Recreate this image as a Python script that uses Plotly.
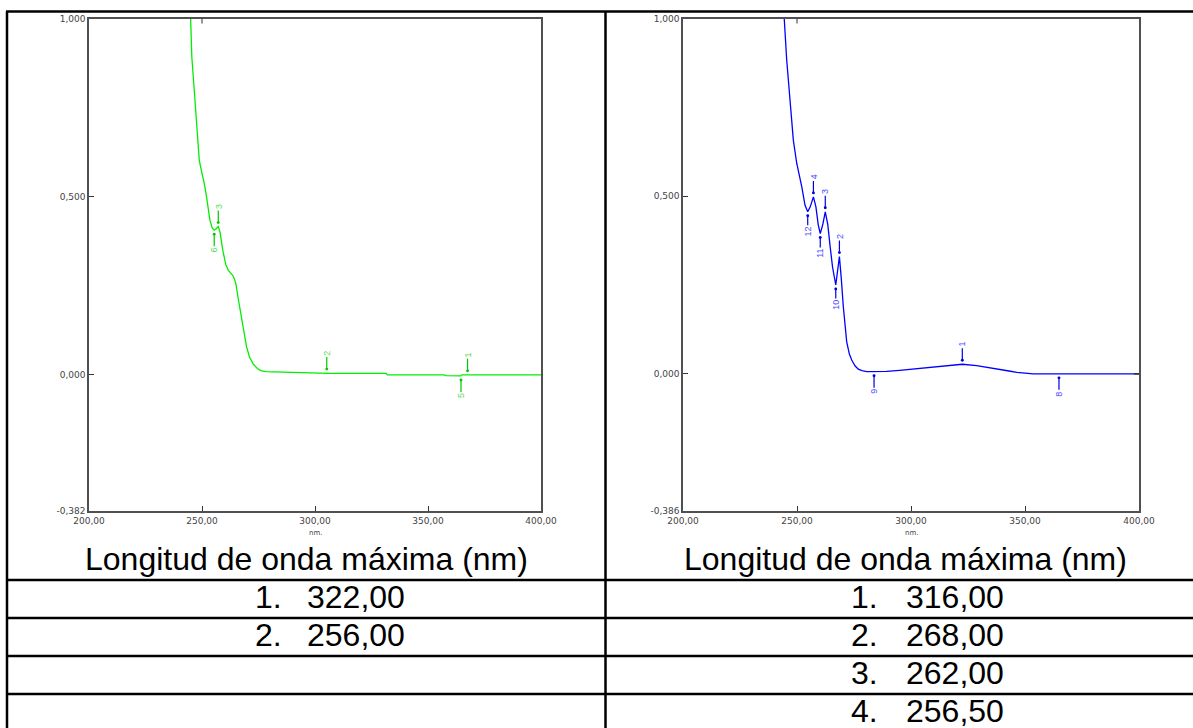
import plotly.graph_objects as go

W, H = 1193, 728

# ---- spectrum A (green): wavelength (nm) / absorbance ----
wl_a = [240.0, 244.7, 245.5, 246.9, 248.0, 248.8, 250.0, 250.9, 252.0, 253.5,
        254.5, 255.4, 256.3, 257.2, 258.0, 259.2, 260.5, 261.6, 262.5, 263.5,
        264.3, 265.0, 266.0, 267.5, 268.5, 269.7, 271.0, 272.7, 274.5, 276.0,
        278.0, 285.0, 292.0, 300.0, 305.0, 306.0, 331.5, 332.0, 357.0, 358.0,
        364.5, 365.0, 400.0]
abs_a = [2.000, 1.000, 0.892, 0.770, 0.680, 0.602, 0.565, 0.541, 0.500, 0.434,
         0.412, 0.406, 0.410, 0.416, 0.400, 0.350, 0.310, 0.294, 0.287, 0.280,
         0.270, 0.255, 0.215, 0.163, 0.120, 0.079, 0.050, 0.030, 0.018, 0.012,
         0.009, 0.008, 0.007, 0.006, 0.005, 0.004, 0.004, 0.000, 0.000, -0.002,
         -0.003, 0.000, 0.000]

# ---- spectrum B (blue) ----
wl_b = [240.0, 244.4, 245.5, 246.9, 248.4, 249.9, 251.0, 252.1, 253.5, 254.7,
        255.8, 257.2, 258.3, 259.3, 260.2, 261.3, 262.4, 263.5, 264.5, 265.6,
        267.0, 267.8, 268.6, 269.4, 270.3, 271.8, 273.0, 274.0, 275.5, 276.9,
        278.5, 280.6, 283.8, 289.3, 295.0, 299.6, 305.0, 309.8, 316.0, 322.5,
        328.8, 334.0, 339.0, 343.0, 346.4, 350.0, 353.6, 400.0]
abs_b = [2.000, 1.000, 0.882, 0.770, 0.657, 0.592, 0.560, 0.526, 0.475, 0.456,
         0.470, 0.498, 0.470, 0.420, 0.395, 0.420, 0.456, 0.420, 0.360, 0.300,
         0.250, 0.290, 0.330, 0.270, 0.190, 0.090, 0.055, 0.039, 0.022, 0.013,
         0.009, 0.0065, 0.006, 0.007, 0.010, 0.013, 0.017, 0.020, 0.024, 0.027,
         0.023, 0.018, 0.013, 0.008, 0.004, 0.002, 0.000, 0.000]

# ---- picked peaks / valleys: label, wavelength, absorbance ----
peaks_a = [("3", 257.2, 0.416), ("2", 305.2, 0.005), ("1", 367.5, 0.000)]
valleys_a = [("6", 255.4, 0.406), ("5", 364.6, -0.003)]
peaks_b = [("4", 257.2, 0.498), ("3", 262.4, 0.456), ("2", 268.6, 0.330),
           ("1", 322.5, 0.027)]
valleys_b = [("12", 254.7, 0.456), ("11", 260.2, 0.395), ("10", 267.0, 0.250),
             ("9", 283.8, 0.006), ("8", 364.9, 0.000)]

# ---- axes ----
x_ticks = [200, 250, 300, 350, 400]
x_ticktext = ["200,00", "250,00", "300,00", "350,00", "400,00"]
y_ticks_a = [-0.382, 0.0, 0.5, 1.0]
y_ticktext_a = ["-0,382", "0,000", "0,500", "1,000"]
y_ticks_b = [-0.386, 0.0, 0.5, 1.0]
y_ticktext_b = ["-0,386", "0,000", "0,500", "1,000"]

# ---- table below the spectra ----
header_text = "Longitud de onda máxima (nm)"
maxima_a = ["322,00", "256,00"]
maxima_b = ["316,00", "268,00", "262,00", "256,50"]

FONT = "Liberation Sans, Arial, sans-serif"
TICKFONT = "DejaVu Sans, sans-serif"
GREEN = "#00ee00"
GREEN_LBL = "#55e055"
BLUE = "#0000ff"
BLUE_LBL = "#4a4aff"
FRAME = "#505050"


def px(x):
    return x / W


def py(y):
    return 1 - y / H


fig = go.Figure()
fig.add_trace(go.Scatter(x=wl_a, y=abs_a, mode="lines",
                         line=dict(color=GREEN, width=1.3),
                         xaxis="x", yaxis="y", showlegend=False))
fig.add_trace(go.Scatter(x=wl_b, y=abs_b, mode="lines",
                         line=dict(color=BLUE, width=1.3),
                         xaxis="x2", yaxis="y2", showlegend=False))

plot_top, plot_bottom = 18.5, 511
dom_y = [py(plot_bottom), py(plot_top)]


def xaxis_cfg(left, right):
    return dict(domain=[px(left), px(right)], range=[200, 400],
                tickmode="array", tickvals=x_ticks, ticktext=x_ticktext,
                ticks="inside", ticklen=5, tickwidth=1, tickcolor="#333",
                showline=True, linecolor=FRAME, linewidth=1.5, mirror=True,
                showgrid=False, zeroline=False, automargin=False,
                tickfont=dict(family=TICKFONT, size=9, color="#444"))


def yaxis_cfg(anchor, vals, text, lo):
    return dict(domain=dom_y, range=[lo, 1.0], anchor=anchor,
                tickmode="array", tickvals=vals, ticktext=text,
                ticks="inside", ticklen=5, tickwidth=1, tickcolor="#333",
                showline=True, linecolor=FRAME, linewidth=1.5, mirror=True,
                showgrid=False, zeroline=False, automargin=False,
                tickfont=dict(family=TICKFONT, size=9, color="#444"))


annotations = []
shapes = []


def mark(xref, yref, items, up, color, lcolor):
    for lbl, x, y in items:
        annotations.append(dict(
            x=x, y=y, xref=xref, yref=yref, text=lbl, textangle=-90,
            showarrow=True, ax=0, ay=-20 if up else 20,
            arrowhead=6, arrowsize=0.6, arrowwidth=1.2, arrowcolor=color,
            standoff=4, font=dict(family=FONT, size=9, color=lcolor)))


mark("x", "y", peaks_a, True, "#00c800", GREEN_LBL)
mark("x", "y", valleys_a, False, "#00c800", GREEN_LBL)
mark("x2", "y2", peaks_b, True, "#0000e0", BLUE_LBL)
mark("x2", "y2", valleys_b, False, "#0000e0", BLUE_LBL)

# axis unit labels
for xr in ("x", "x2"):
    annotations.append(dict(x=300, y=py(533), xref=xr, yref="paper",
                            text="nm.", showarrow=False, yanchor="middle",
                            font=dict(family=TICKFONT, size=7, color="#444")))

# extra ticks on the top frame at 250 nm and on the right frame at 0
for xr, ydom in (("x", "y domain"), ("x2", "y2 domain")):
    shapes.append(dict(type="line", xref=xr, yref=ydom, x0=250, x1=250,
                       y0=1, y1=1 - 5 / (plot_bottom - plot_top),
                       line=dict(color="#333", width=1)))
shapes.append(dict(type="line", xref="x2 domain", yref="y2", x0=1,
                   x1=1 - 5 / 456, y0=0, y1=0,
                   line=dict(color="#333", width=1.5)))

# table grid
TL = dict(color="black", width=2.5)
shapes.append(dict(type="line", xref="paper", yref="paper",
                   x0=px(6), x1=1, y0=py(11.5), y1=py(11.5), line=TL))
shapes.append(dict(type="line", xref="paper", yref="paper",
                   x0=px(7), x1=px(7), y0=py(11.5), y1=0, line=TL))
shapes.append(dict(type="line", xref="paper", yref="paper",
                   x0=px(605.5), x1=px(605.5), y0=py(11.5), y1=0, line=TL))
for yy in (580, 618, 656, 694):
    shapes.append(dict(type="line", xref="paper", yref="paper",
                       x0=px(7), x1=1, y0=py(yy), y1=py(yy), line=TL))

# table text
TF = dict(family=FONT, size=32, color="black")
for cx in (306.5, 905.5):
    annotations.append(dict(x=px(cx), y=py(558.5), xref="paper", yref="paper",
                            text=header_text, showarrow=False, font=TF,
                            xanchor="center", yanchor="middle"))
row_y = [596.5, 634.5, 672.5, 710.5]
for vals, num_x, val_x in ((maxima_a, 284, 305), (maxima_b, 880, 904)):
    for i, v in enumerate(vals):
        annotations.append(dict(x=px(num_x), y=py(row_y[i]), xref="paper",
                                yref="paper", text=f"{i + 1}.", showarrow=False,
                                font=TF, xanchor="right", yanchor="middle"))
        annotations.append(dict(x=px(val_x), y=py(row_y[i]), xref="paper",
                                yref="paper", text=v, showarrow=False,
                                font=TF, xanchor="left", yanchor="middle"))

fig.update_layout(
    width=W, height=H,
    margin=dict(l=0, r=0, t=0, b=0, pad=0, autoexpand=False),
    paper_bgcolor="white", plot_bgcolor="white",
    xaxis=xaxis_cfg(89, 541), yaxis=yaxis_cfg("x", y_ticks_a, y_ticktext_a, -0.382),
    xaxis2=dict(xaxis_cfg(683, 1139), anchor="y2"),
    yaxis2=yaxis_cfg("x2", y_ticks_b, y_ticktext_b, -0.386),
    annotations=annotations, shapes=shapes, showlegend=False,
)
fig.write_html("out.html")
